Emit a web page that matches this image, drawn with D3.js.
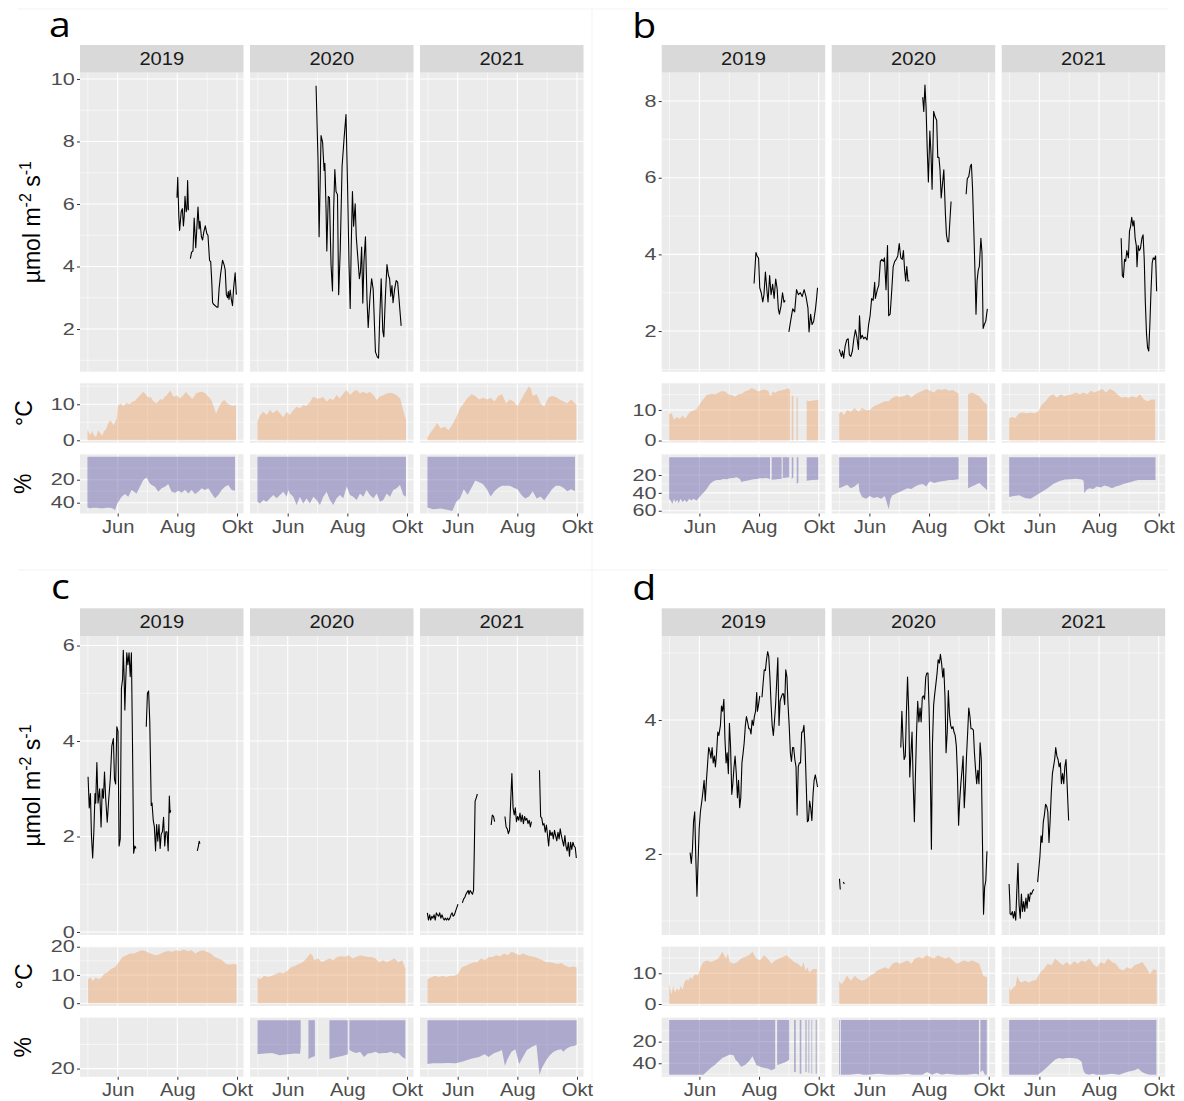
<!DOCTYPE html>
<html><head><meta charset="utf-8">
<script src="https://cdn.jsdelivr.net/npm/d3@7"></script>
<style>body{margin:0;background:#fff}svg{display:block}</style>
</head><body><svg id="chart" width="1184" height="1101"></svg>
<script>
// ---------- DATA (day = days after 1 May; value) ----------
const years = ["2019","2020","2021"];
const monthLabels = ["Jun","Aug","Okt"];
const monthDays = [31, 92, 153];
const panelLetters = ["a","b","c","d"];
const fluxTitle = ["µmol m","-2"," s","-1"];

// Panel a
const aFlux2019 = [[91.6,6.2],[92.4,6.85],[93.5,5.6],[94.3,5.15],[95.9,5.75],[97.1,5.85],[98.2,5.3],[99,5.6],[99.8,6.25],[101,5.75],[101.8,5.85],[102.5,6.75],[103.3,5.8],[104.2,null],[105.3,4.25],[106.5,4.45],[108,4.5],[109.2,5.55],[110.8,4.6],[113.1,5.9],[114.3,5.2],[115.1,5.45],[116.6,4.95],[117.8,4.85],[119,5.1],[120.6,5.3],[122.1,5.05],[123.3,5.0],[124.9,4.2],[126.1,4.15],[127.2,3.5],[128,2.85],[128.8,2.8],[132.3,2.7],[133.5,2.7],[134.7,3.3],[136.2,3.75],[138.2,4.2],[139.8,4.05],[140.9,3.9],[142.1,3.1],[143.3,3.0],[144.1,3.2],[144.8,2.95],[146,3.25],[147.2,2.95],[148.4,2.75],[149.5,3.3],[151.1,3.8],[152.3,3.1]];
const aFlux2020 = [[60,9.78],[62,7.4],[63.1,4.95],[65.1,8.19],[66.7,7.97],[68.2,7.07],[69,7.3],[70.2,5.85],[71,4.5],[72.5,6.24],[73.7,6.2],[75.3,4.06],[76.8,3.22],[78,5.85],[79.2,7.1],[80.4,6.4],[81.9,6.3],[83.1,3.1],[84.7,4.5],[86.6,7.2],[88.6,8.08],[90.6,8.86],[92.1,6.74],[93.7,4.06],[94.9,2.66],[96,4.73],[97.2,6.4],[98.4,5.29],[100,6.01],[101.1,4.95],[102.7,4.28],[104.3,3.61],[105.4,3.83],[106.6,4.62],[107.8,2.83],[109,4.17],[110.5,4.95],[112.1,2.94],[113.3,2.05],[115.2,3.05],[116.8,3.61],[118.4,3.27],[120.7,1.27],[122.7,1.1],[123.9,1.07],[125,2.27],[126.6,3.61],[128.2,1.94],[129.3,1.75],[130.9,3.05],[132.5,4.06],[134,3.72],[135.2,3.61],[136.4,3.05],[137.6,3.39],[138.7,2.84],[140.3,3.27],[141.9,3.55],[143.4,3.5],[144.6,3.05],[147,2.1]];
const aFlux2021 = [];
const aTemp2019 = [[0,3.0],[3,1.5],[5,2.6],[7,1.2],[9,1.0],[11,2.8],[13,2.0],[15,1.2],[17,2.5],[19,3.0],[21,4.5],[23,5.5],[25,5.0],[27,4.2],[29,5.5],[30,6.0],[31,9.6],[34,10.2],[37,9.5],[40,10.4],[43,10.0],[46,10.7],[49,11.0],[52,12.0],[55,12.8],[57,13.5],[59,13.0],[61,12.2],[63,11.8],[65,12.0],[67,11.0],[69,10.6],[71,10.3],[73,11.0],[75,11.5],[77,11.2],[79,12.0],[81,12.5],[83,13.2],[85,13.8],[87,12.6],[89,12.0],[91,12.5],[93,12.0],[95,11.6],[97,12.2],[99,12.8],[101,13.5],[103,12.6],[105,12.2],[107,11.5],[109,12.0],[111,13.0],[113,13.2],[115,13.4],[117,13.5],[119,13.3],[121,13.0],[123,12.2],[125,11.8],[127,11.0],[129,9.5],[131,7.8],[132,7.5],[134,9.0],[136,10.0],[138,10.8],[140,11.2],[142,10.6],[144,10.0],[146,9.8],[148,9.6],[150,9.5],[152,9.9]];
const aTemp2020 = [[0,5.2],[3,7.0],[6,7.9],[9.5,7.0],[13,8.4],[16,7.5],[20,8.4],[23,7.5],[26.5,6.4],[30,7.9],[33,7.0],[37,8.4],[40,9.3],[43.5,8.9],[47,9.8],[50,9.5],[54,10.7],[57,12.1],[60.6,11.6],[64,11.6],[67,12.1],[71,10.7],[74,11.6],[77.6,11.2],[81,12.6],[84,11.6],[88,13.0],[91,14.0],[95,12.6],[98,13.5],[101.5,14.0],[105,13.0],[108,13.5],[112,13.0],[115,13.5],[118.6,12.6],[122,11.2],[125,12.1],[129,12.6],[132,13.0],[135.6,13.2],[139,13.0],[142,12.6],[146,11.6],[149,8.4],[152,5.8]];
const aTemp2021 = [[0,0.8],[3.7,2.3],[7.8,3.8],[9.8,4.8],[13.7,3.3],[17.6,3.8],[21.5,2.8],[25.5,4.3],[29.4,6.3],[33.3,8.8],[37.2,10.3],[41.2,11.8],[45.1,12.8],[49,12.3],[52.9,11.3],[56.8,11.8],[60.8,11.3],[64.7,11.8],[68.6,10.8],[72.5,12.3],[76.4,12.8],[80.4,10.3],[84.3,11.3],[88.2,10.8],[92.1,9.5],[96,11.3],[100,13.3],[103.9,15.0],[105.8,14.3],[107.8,12.3],[111.7,12.8],[115.6,10.3],[119.5,9.3],[123.5,11.8],[127.4,12.3],[131.3,12.0],[135.2,11.3],[139.1,10.8],[143.1,10.3],[147,11.3],[150.9,10.3],[152.5,10.0]];
const aHum2019 = [[0,44.1],[2.7,44.9],[6,44.3],[9.5,44.3],[13,44.9],[16.3,44.9],[20,44.3],[23.1,44.3],[26,45],[28.2,46.4],[30.6,40.6],[35,34.8],[38.4,32.5],[41.8,34.8],[45.2,29],[50.3,31.9],[53.7,26.1],[57.2,20.3],[60.6,18],[63.3,22.6],[65.7,24.6],[69.1,26.1],[72.5,30.4],[75.9,27.5],[79.3,26.1],[82.7,23.8],[86.1,30.4],[89.6,31.3],[93,29.6],[96.4,31.3],[99.8,29],[103.2,31.9],[106.6,29],[110,32.5],[113.4,30.4],[116.8,27.5],[120.2,29],[123.6,27.5],[127.1,31.9],[130.5,36.2],[133.9,33.3],[137.3,29],[140.7,26.1],[144.1,24.6],[147.5,29],[150.9,29.6]];
const aHum2020 = [[0,39.1],[2.7,40.6],[6.1,37.7],[9.5,39.1],[12.9,36.2],[16.3,33.3],[19.7,36.2],[23.1,33.3],[26.5,30.4],[29.9,34.8],[31.6,29],[33.3,31.9],[36.7,34.8],[40.1,42],[43.5,34.8],[46.9,40.6],[50.3,36.2],[53.7,40.6],[57.2,34.8],[60.6,37.7],[64,42],[67.4,34.8],[70.8,30.4],[74.2,37.7],[77.6,42],[81,36.2],[84.4,33.3],[87.8,36.2],[91.3,26],[94.7,33.3],[98.1,34.8],[101.5,37.7],[104.9,31.9],[108.3,34.8],[111.7,28.9],[115.1,33.3],[118.6,36.2],[122,31.9],[125.4,39.1],[128.8,37.7],[132.2,31.9],[135.6,34.8],[139,28.9],[142.4,27.5],[145.8,24.6],[149.2,33.3],[151.9,34.8]];
const aHum2021 = [[0,44.1],[5.8,45.6],[13.7,45],[21.5,46.3],[25.5,47.2],[29.4,39.4],[33.3,36.3],[37.2,28.4],[41.2,33.1],[45.1,26.9],[49,20.6],[52.9,22.2],[56.8,23.8],[60.8,28.4],[64.7,34.7],[68.6,30],[72.5,26.9],[76.4,25.3],[80.4,25.3],[84.3,25.3],[88.2,26.9],[92.1,28.4],[96,33.1],[100,36.3],[103.9,34.7],[107.8,30],[111.7,36.3],[115.6,34.7],[119.5,37.8],[123.5,33.1],[127.4,28.4],[131.3,25.3],[135.2,25.3],[139.1,26.9],[143.1,30],[147,28.4],[150.9,30]];

// Panel b
const bFlux2019 = [[86.9,3.24],[88.8,4.05],[90,3.96],[91.5,3.9],[92.7,3.13],[94.2,3.0],[95.8,2.76],[97,2.95],[98.5,3.54],[100.1,3.04],[101.2,2.76],[102.8,3.45],[104.3,2.95],[105.9,3.22],[107.4,2.85],[109,3.36],[110.5,3.1],[111.7,2.58],[112.8,2.44],[114.4,2.65],[116,3.0],[117.5,2.75],[118.7,2.8],[120.5,null],[122.5,1.98],[124.5,2.3],[126.4,2.58],[128.4,2.5],[130.3,3.08],[132.2,2.95],[134.2,3.0],[136.1,2.9],[138.1,3.08],[140,2.9],[142,2.6],[143.1,1.98],[144.7,2.44],[146.2,2.17],[147.8,2.25],[149.7,2.58],[150.8,2.85],[151.8,3.13]];
const bFlux2020 = [[0.3,1.52],[1.2,1.43],[2.4,1.34],[3.5,1.48],[4.7,1.29],[6.2,1.61],[7.8,1.77],[9.3,1.8],[10.5,1.38],[12,1.34],[13.6,1.48],[15.1,1.8],[16.7,2.03],[18.2,1.84],[19.8,1.52],[20.9,2.4],[22.1,1.8],[23.6,1.89],[25.2,1.8],[26.7,1.84],[28.6,1.77],[30.2,2.17],[31.7,2.4],[33.3,2.85],[34.8,2.8],[36.4,3.27],[37.1,2.85],[39.1,3.08],[40.6,3.2],[42.2,3.82],[43.7,3.87],[45.3,3.82],[46.4,3.91],[48,3.08],[49.5,4.23],[50.7,2.4],[52.2,2.44],[53.8,3.04],[55.3,3.68],[56.9,3.82],[58.4,3.87],[60,3.96],[61.5,4.28],[63.1,3.91],[64.6,3.87],[65.8,4.1],[66.9,3.63],[68.1,3.31],[69.2,3.68],[70.4,3.31],[71.9,3.31],[73,null],[85.5,8.1],[86.6,7.73],[87.8,8.42],[88.9,7.86],[90.1,6.76],[91.3,5.89],[92.8,7.22],[94,6.62],[95.1,5.7],[96.7,7.73],[98.2,7.59],[99.8,7.5],[100.9,6.53],[102.1,6.53],[103.2,6.21],[104.4,5.47],[105.6,5.8],[107.1,6.21],[108.7,5.06],[109.8,4.51],[111,4.33],[112.1,4.33],[113.3,4.88],[114.5,5.38],[116,null],[129.9,5.57],[131.1,5.98],[132.6,6.03],[134.2,6.3],[135.3,6.35],[136.5,5.7],[138,4.42],[139.2,3.31],[140,2.44],[141.1,3.31],[142.3,3.59],[143.4,3.68],[145,4.42],[146.1,4.05],[147.3,2.07],[148.5,2.17],[150,2.26],[151.6,2.58]];
const bFlux2021 = [[114.6,4.42],[115.8,3.45],[116.9,3.4],[118.1,3.87],[119.2,3.82],[120.4,4.1],[122,3.91],[123.1,4.6],[124.3,4.74],[125.4,4.97],[126.6,4.74],[127.7,4.88],[128.9,4.42],[130.1,4.23],[130.8,3.68],[132,4.23],[133.1,4.1],[134.3,4.15],[135.8,4.42],[137,4.51],[138.2,3.87],[139.3,2.76],[140.5,1.94],[141.6,1.57],[142.8,1.48],[144,2.21],[145.1,3.04],[146.3,3.77],[147.4,3.91],[148.6,3.87],[149.8,3.96],[150.9,3.04]];
const bTemp2019 = [[0,8.7],[2.6,8.9],[5,6.8],[7.7,7.7],[11.1,7.1],[13.9,8.2],[16.3,7.1],[18.7,8.2],[21.3,9.3],[24.8,9.8],[28.2,10.3],[31.6,12.1],[35,13.5],[38.4,14.9],[43.6,15.3],[47,15.1],[50.4,15.6],[53.8,16.2],[57.2,16.0],[60.6,15.1],[64,14.9],[67.4,14.3],[70.8,15.1],[74.2,15.3],[77.6,16.0],[81,16.4],[84.4,17.2],[87.8,16.7],[91.3,16.0],[94.7,16.4],[98.1,16.7],[101.5,16.2],[103.9,14.3],[105.9,16.0],[108.3,15.6],[111.7,16.2],[115.1,16.4],[118.6,16.7],[122,17.2],[123.7,16.4],[124.3,null],[125.4,14.6],[127.1,14.6],[127.6,null],[130.3,14.3],[131.6,14.0],[132,null],[140.7,13.2],[143,12.8],[146,13.0],[149,13.2],[152.6,13.3]];
const bTemp2020 = [[0,8.9],[2.4,9.4],[5.1,8.3],[8.2,10],[12,9.4],[15.9,10.6],[19.8,9.4],[23.6,10.6],[27.5,10],[31.4,10],[35.2,11.1],[39.1,11.7],[43,12.3],[46.8,12.8],[50.7,12.8],[54.5,14],[58.4,14.5],[62.3,14.2],[66.1,14.5],[70,15.1],[73.9,14],[77.7,15.1],[81.6,15.7],[85.5,16.3],[89.3,16.8],[93.2,16.3],[97.1,15.7],[100.9,16.8],[104.8,16.5],[108.7,16.8],[112.5,16.3],[116.4,16.5],[120.3,15.7],[122.2,15.3],[122.8,null],[131.9,15.1],[135.7,15.7],[139.6,15.1],[143.4,14.5],[147.3,12.8],[151.2,11.7]];
const bTemp2021 = [[0,7.2],[2.5,7.7],[6.4,7.4],[10.2,8.9],[14.1,9.2],[18,8.9],[21.8,9.2],[25.7,8.9],[29.6,9.4],[33.4,11.7],[37.3,12.8],[41.2,14.5],[45,15.1],[48.9,14],[52.8,15.1],[56.6,14.5],[60.5,14.9],[64.4,15.1],[68.2,15.7],[72.1,15.1],[76,15.7],[79.8,15.1],[83.7,16.3],[87.5,15.7],[91.4,16.3],[95.3,16.8],[99.1,15.7],[103,16.8],[106.9,16.3],[110.7,15.1],[114.6,14],[118.5,14.2],[122.3,14],[126.2,14.5],[130.1,14],[133.9,15.1],[137.8,13.4],[141.7,12.8],[145.5,13.4],[149.4,13.4]];
const bHum2019 = [[0,46.7],[1.5,48.5],[3.5,52.2],[5,46.7],[6.3,50.4],[8.4,47.8],[9.7,51.5],[11.8,46.7],[13.9,50.4],[15.9,47.8],[18,50.4],[20.7,46.7],[22.8,48.5],[24.8,46.7],[28.2,48.5],[30.9,44.8],[33.3,41.9],[35.7,39.3],[38.4,35.6],[41.8,30],[45.2,27],[48.6,25.6],[52,25.6],[55.5,24.4],[58.9,24.8],[62.3,23.7],[65.7,23.3],[69.1,22.6],[72.5,24.4],[74.2,28.1],[75.9,27],[79.3,26.3],[82.7,25.6],[86.1,24.8],[89.6,24.4],[93,23.7],[96.4,23.7],[99.8,23.3],[103.2,24.4],[103.8,null],[104.9,25.2],[108,25.0],[112,24.6],[115.1,24.4],[115.6,null],[116.2,23.3],[119,23],[122.9,22.6],[123.4,null],[125.4,24.4],[127.1,22.6],[127.6,null],[130.5,30],[132.2,28],[132.6,null],[140.7,26.3],[146,25.6],[152.6,25.2]];
const bHum2020 = [[0,34.8],[4.3,32.9],[8.2,30.9],[12,34.8],[15.9,32.9],[19.8,29],[20.9,38.8],[23.6,44.6],[27.5,46.6],[31.4,43.4],[35.2,45.8],[39.1,44.6],[43,46.6],[46.8,43.4],[50.7,58.3],[52.6,46.6],[54.5,42.7],[58.4,40.7],[62.3,38.8],[66.1,36.8],[70,34.8],[73.9,35.6],[77.7,32.9],[81.6,30.9],[85.5,30.2],[89.3,32.9],[91.3,29],[93.2,27],[97.1,29],[100.9,27.8],[104.8,27],[108.7,26.3],[112.5,25.5],[116.4,25.5],[122.2,24.7],[122.8,null],[131.9,34.8],[135.7,32.9],[139.6,30.9],[143.4,29],[147.3,32.9],[151.2,36.8]];
const bHum2021 = [[0,44.6],[4.6,43.4],[10.4,42.7],[16.2,45.8],[22,46.6],[27.8,42.7],[33.6,38.8],[39.4,34.8],[45.2,30.2],[51,27],[56.8,25.1],[62.6,24.7],[68.4,24.3],[74.2,25.1],[76.2,26.3],[76.9,40.7],[78.9,36.8],[82,34.8],[85.9,35.6],[89.7,32.9],[93.6,34],[97.5,31.7],[101.3,32.9],[105.2,34.8],[109.1,32.9],[113,31.7],[116.8,30.2],[120.7,29],[124.6,27.8],[128.4,26.3],[132.3,25.5],[136.2,25.5],[142,25.5],[149.7,25.5]];

// Panel c
const cFlux2019 = [[0.7,3.25],[1.9,2.6],[3.1,2.9],[4.2,2.0],[5.4,1.55],[6.6,2.1],[7.8,2.9],[8.5,2.7],[9.7,3.55],[10.9,2.7],[12.5,3.0],[14,2.2],[15.2,3.0],[16.4,2.8],[17.5,3.35],[18.7,2.8],[20.3,2.3],[21.9,2.8],[23.4,3.2],[25,3.9],[26.6,4.05],[27.7,3.2],[28.9,3.1],[30.1,4.3],[31.3,4.2],[32.4,1.8],[33.6,1.95],[34.8,5.1],[36,5.3],[36.7,5.9],[37.5,5.4],[38.3,4.65],[39.1,5.2],[40.3,5.85],[41.4,5.6],[42.6,5.85],[43.8,5.35],[45,5.85],[46.1,4.0],[47.3,1.65],[48.5,1.8],[49.7,1.75],[51,null],[60.2,4.3],[61.4,5.0],[62.6,5.05],[63.8,4.4],[65.3,2.65],[66.1,2.7],[67.3,2.35],[68.5,2.2],[69.7,1.7],[70.8,2.25],[72,1.9],[73.2,2.25],[74.4,1.75],[75.5,2.05],[76.7,2.1],[77.9,2.4],[79.1,1.8],[80.2,2.1],[81.4,2.1],[82.6,1.7],[83.8,2.85],[84.5,2.5],[85.3,2.55],[86,null],[112.4,1.7],[113.5,1.8],[114.3,1.9],[115.1,1.85]];
const cFlux2020 = [];
const cFlux2021 = [[0,0.4],[1.1,0.25],[2.3,0.36],[3.4,0.25],[4.6,0.33],[5.7,0.29],[6.9,0.36],[8,0.25],[9.2,0.4],[10.3,0.36],[11.5,0.33],[12.6,0.4],[13.8,0.29],[14.9,0.36],[16.1,0.29],[17.2,0.25],[18.4,0.29],[19.5,0.25],[20.7,0.29],[21.8,0.25],[23,0.29],[24.1,0.36],[25.3,0.4],[26.4,0.33],[27.6,0.36],[28.7,0.43],[29.9,0.5],[31.3,0.58],[33.5,null],[35.8,0.61],[37,0.69],[38.2,0.72],[39.4,0.79],[40.5,0.83],[41.7,0.87],[42.5,0.79],[43.7,0.87],[44.9,0.83],[46.1,0.79],[47.2,0.87],[48,1.73],[48.8,2.74],[50,2.81],[51.1,2.89],[52,null],[65.2,2.24],[66.4,2.45],[67.6,2.42],[68.8,2.31],[69.5,null],[79.3,2.42],[80.5,2.2],[81.7,2.16],[82.8,2.06],[84,2.13],[85.2,2.74],[86.4,3.32],[87.6,2.6],[88.8,2.45],[89.9,2.6],[91.1,2.31],[92.3,2.42],[93.5,2.34],[94.7,2.49],[95.8,2.31],[97,2.45],[98.2,2.27],[99.4,2.42],[100.5,2.34],[101.7,2.38],[102.9,2.27],[104.1,2.34],[105.3,2.2],[106.4,2.31],[107,null],[114.6,3.39],[115.8,2.42],[117,2.38],[118.1,2.24],[119.3,2.27],[120.5,2.09],[121.7,2.24],[122.9,2.02],[124,1.8],[125.2,2.13],[126.4,2.02],[127.6,2.09],[128.8,1.95],[130,2.13],[131.1,2.02],[132.3,1.91],[133.5,2.09],[134.7,1.95],[135.8,2.16],[137,2.02],[138.2,1.91],[139.4,1.8],[140.6,2.02],[141.7,1.8],[142.9,1.7],[144.1,1.88],[145.3,1.59],[146.4,1.88],[147.6,1.73],[148.8,1.88],[150,1.8],[151.2,1.77],[152.3,1.55]];
const cTemp2019 = [[0.7,8.5],[3.1,9.1],[5.4,7.9],[8.5,9.1],[11.7,8.5],[14.4,9.1],[17.2,10.3],[20.3,10.9],[24.2,12.1],[28.1,12.7],[32,14.5],[36,16.4],[39.9,17],[43.8,17.6],[47.7,17.6],[51.6,18.2],[55.6,18.8],[59.5,18.4],[63.4,17.8],[67.3,17.2],[71.2,17],[75.1,17.6],[79.1,18.2],[83,18.5],[86.9,18.2],[90.8,18.8],[94.7,18.4],[98.6,19],[102.6,18.4],[106.5,18.8],[110.4,17.6],[114.3,18.4],[118.2,18.8],[122.1,18.2],[126.1,17.6],[130,16.4],[133.9,15.8],[137.8,15.2],[141.7,13.9],[145.6,13.7],[149.6,13.9],[152.7,13.7]];
const cTemp2020 = [[0.1,9.1],[3.2,8.5],[7.1,9.7],[11,9.3],[15,9.7],[18.9,10.3],[22.8,10.9],[26.7,10.5],[30.6,11.5],[34.5,12.7],[38.5,13.3],[42.4,13.9],[46.3,14.5],[50.2,15.8],[54.1,17.6],[56.1,17],[58,15.2],[62,15.8],[65.9,14.5],[69.8,15.2],[73.7,15.8],[77.6,15.2],[81.5,16.4],[85.5,16.6],[89.4,16.4],[93.3,17],[97.2,15.8],[101.1,16.4],[105,17],[109,16.6],[112.9,16.4],[116.8,16.4],[120.7,15.8],[124.6,14.5],[128.6,15.2],[132.5,14.5],[136.4,15.2],[140.3,15.8],[144.2,14.5],[148.1,15.2],[151.3,12.1]];
const cTemp2021 = [[0,8.5],[3.9,9.1],[7.8,9.7],[11.8,9.3],[15.7,9.7],[19.6,9.3],[23.5,9.7],[27.4,9.7],[31.3,10.3],[35.3,12.7],[39.2,13.3],[43.1,13.9],[47,14.5],[50.9,14.5],[54.9,15.8],[58.8,15.2],[62.7,16.4],[66.6,16.4],[70.5,17],[74.4,16.6],[78.4,17.6],[82.3,17],[86.2,18.2],[90.1,17.6],[94,17],[97.9,17.6],[101.9,17],[105.8,16.6],[109.7,16.4],[113.6,15.8],[117.5,15.2],[121.5,14.5],[125.4,14.5],[129.3,14.2],[133.2,13.9],[137.1,14.2],[141,13.3],[145,12.7],[148.9,13],[152.5,12.7]];
const cHum2019 = [];
const cHum2020 = [[0.1,14.1],[7.1,13.8],[15,13.5],[22.8,14.5],[30.6,14.1],[38.5,13.8],[43.6,13.9],[44.3,11.2],[44.8,null],[52.2,16],[56,15.2],[58.8,14.9],[59.3,null],[73.7,16],[77.6,15.6],[81.5,15.2],[85.5,14.9],[89.4,14.5],[92.5,14.1],[93.2,null],[94.1,12.3],[97.2,13],[101.1,13.5],[105,13],[109,15.2],[112.9,13.8],[116.8,13.5],[120.7,13],[124.6,13.8],[128.6,13.5],[132.5,13.5],[136.4,13],[140.3,13.8],[144.2,13.5],[148.1,15.2],[151.3,15.9]];
const cHum2021 = [[0,18.1],[5.7,17.8],[13.5,17.8],[21.4,17.7],[29.2,17.8],[37,17],[44.9,15.9],[52.7,15.2],[58.6,14.1],[62.5,15.2],[68.4,13.5],[72.3,13],[76.2,12.3],[79.3,18.8],[82.1,15.9],[86,13],[89.9,12],[93.8,18.1],[97.7,15.2],[101.7,12.3],[107.5,10.9],[111.5,10.1],[114.6,22.5],[117.3,19.6],[121.3,16.7],[125.2,14.5],[129.1,13],[133,12.3],[136.9,12],[138.9,13],[142.8,11.6],[146.7,10.9],[150.6,10.6],[152.6,10.1]];

// Panel d
const dFlux2019 = [[21.5,2.02],[22.7,1.86],[23.9,2.07],[25,2.48],[26.2,2.63],[27.3,1.96],[28.5,1.37],[29.7,1.91],[30.8,2.38],[32,2.63],[33.5,2.79],[34.7,2.94],[35.8,3.1],[37,2.79],[38.2,3.1],[39.3,3.33],[40.5,3.59],[41.6,3.54],[42.8,3.43],[44,3.59],[45.1,3.36],[46.3,3.46],[47.4,3.3],[48.6,3.51],[49.8,3.82],[50.9,3.77],[52.5,3.92],[53.6,4.21],[54.8,4.13],[56,4.31],[57.1,3.72],[58.3,3.36],[59.4,3.51],[60.6,3.2],[61.7,3.95],[62.9,3.59],[64.1,2.89],[65.2,3.05],[66.4,3.3],[67.5,3.46],[68.7,3.2],[69.9,2.84],[71,3.1],[72.2,2.69],[73.3,2.84],[74.5,3.36],[75.7,3.51],[76.8,3.66],[78,3.92],[79.1,4.05],[80.3,3.97],[81.5,3.87],[82.6,3.87],[83.8,3.79],[84.9,4.0],[86.1,3.92],[87.2,4.05],[88.4,4.13],[89.6,4.41],[90.3,4.13],[91.5,4.23],[92.7,4.36],[93.5,null],[95,4.34],[96.1,4.54],[97.3,4.75],[98.5,4.74],[99.6,4.9],[100.8,5.02],[101.9,4.95],[103.1,4.64],[104.3,4.23],[105.4,3.92],[106.6,3.77],[107.7,3.97],[108.9,4.23],[110.1,4.59],[111.2,4.93],[112.4,3.92],[113.5,4.28],[114.7,4.34],[115.9,4.39],[117,4.39],[118.2,4.23],[119.3,4.75],[120.5,4.64],[121.6,4.23],[122.8,3.92],[124,3.51],[125.1,3.38],[126.3,3.59],[127.4,3.59],[128.6,3.41],[129.8,3.3],[130.9,2.58],[132.1,3.3],[133.2,3.36],[134.4,3.36],[135.6,3.82],[136.7,3.82],[137.9,3.92],[139,3.61],[140.2,3.05],[141.4,2.48],[142.5,2.5],[143.7,2.79],[144.8,2.69],[146,2.5],[147.2,2.89],[148.3,3.1],[149.5,3.18],[150.6,3.1],[151.8,3.0]];
const dFlux2020 = [[0.4,1.63],[1.2,1.47],[1.6,null],[4.3,1.58],[5.4,1.55],[6,null],[63.1,3.59],[64.2,4.13],[65.4,3.69],[66.5,3.41],[67.7,3.46],[68.8,4.08],[70,4.64],[71.2,4.13],[72.3,3.15],[73.5,3.51],[74.6,3.82],[75.8,3.05],[77,2.48],[78.1,3.2],[79.3,3.85],[80.4,4.28],[81.6,3.97],[82.8,4.18],[83.9,3.97],[85.1,4.34],[86.2,4.36],[87.4,4.31],[88.6,4.64],[89.7,4.7],[90.9,4.7],[92,4.18],[93.2,3.3],[94.4,2.07],[95.5,3.66],[96.7,4.23],[97.8,4.39],[99,4.54],[100.2,4.7],[101.3,4.9],[102.5,4.85],[103.6,4.98],[104.8,4.85],[106,4.64],[107.1,4.77],[108.3,4.34],[109.4,3.51],[110.6,3.82],[111.7,4.44],[112.9,4.08],[114.1,3.92],[115.2,3.87],[116.4,3.9],[117.5,3.82],[118.7,3.77],[119.9,3.61],[121,3.2],[122.2,2.43],[123.3,2.79],[124.5,3.05],[125.7,3.25],[126.8,3.46],[128,2.69],[129.1,3.0],[130.3,3.46],[131.5,3.82],[132.6,4.18],[133.8,4.05],[134.9,3.87],[136.1,3.87],[137.3,3.85],[138.4,3.51],[139.6,3.25],[140.7,3.05],[141.9,3.25],[143,3.05],[144.2,3.66],[145.4,3.41],[146.5,2.27],[147.7,1.1],[148.8,1.5],[150,1.6],[151.2,2.04]];
const dFlux2021 = [[0,1.55],[0.9,1.24],[1,1.11],[2.1,1.09],[3.3,1.14],[4.4,1.04],[5.6,1.14],[6.8,1.01],[7.9,1.45],[9.1,1.86],[10.2,1.24],[11.4,1.04],[12.6,1.4],[13.7,1.14],[14.9,1.29],[16,1.14],[17.2,1.34],[18.4,1.19],[19.5,1.4],[20.7,1.29],[21.8,1.42],[23,1.4],[24.2,1.45],[25.3,1.47],[26.5,null],[29.2,1.58],[30.3,1.76],[31.5,1.96],[32.7,2.27],[33.8,2.17],[35,2.48],[36.1,2.58],[37.3,2.74],[38.5,2.71],[39.6,2.63],[40.8,2.17],[41.9,2.48],[43.1,2.89],[44.3,3.2],[45.4,3.3],[46.6,3.41],[47.7,3.59],[48.9,3.46],[50.1,3.41],[51.2,3.3],[52.4,3.36],[53.5,3.05],[54.7,3.2],[55.9,3.05],[57,3.3],[58.2,3.41],[59.3,3.05],[60.9,2.5]];
const dTemp2019 = [[0,6.4],[2.6,3.1],[4.1,5.9],[6.1,3.7],[8,5.3],[9.9,4.2],[11.9,5.9],[13.8,4.8],[15.7,7],[17.7,8.1],[19.6,7.6],[21.5,8.7],[23.5,8.1],[25.4,9.2],[27.3,9.8],[29.3,9.2],[31.2,10.9],[33.1,12.6],[35.1,13.7],[38.9,14.2],[42.8,13.7],[46.7,14.2],[50.5,14.8],[54.4,17],[56.3,15.9],[58.3,14.8],[60.2,16.4],[62.1,13.7],[66,13.1],[69.9,13.7],[73.7,14.8],[77.6,15.3],[81.5,15.9],[85.3,17],[89.2,14.8],[93.1,14.2],[96.9,15.9],[100.8,14.8],[104.7,13.1],[108.5,14.2],[112.4,14.8],[116.2,15.3],[120.1,15.9],[124,14.8],[127.8,13.7],[131.7,13.1],[135.6,12],[137.5,13.7],[139.4,10.9],[141.4,12],[143.3,10.3],[147.2,11.4],[151,11.4]];
const dTemp2020 = [[0,7.6],[2.4,6.4],[4.3,7.2],[8.2,9.2],[12,7.6],[15.9,9.2],[19.8,8.1],[23.6,7.6],[27.5,8.1],[31.4,9.2],[35.2,9.8],[39.1,10.9],[43,11.4],[46.8,12],[50.7,11.4],[54.5,13.1],[58.4,13.7],[62.3,13.1],[66.1,13.7],[70,14.2],[73.9,13.1],[77.7,14.8],[81.6,15.3],[85.5,14.8],[89.3,15.9],[93.2,15.3],[97.1,14.8],[100.9,15.9],[104.8,15.3],[108.7,14.8],[112.5,15.3],[116.4,14.2],[120.3,13.1],[124.2,13.7],[128,14.2],[131.9,13.7],[135.7,14.2],[139.6,13.7],[143.4,13.1],[147.3,9.2],[151.2,8.7]];
const dTemp2021 = [[0,5.9],[1.5,4.2],[3.9,5.3],[6.6,5.9],[8.5,9.2],[10.4,7.6],[12.4,7],[16.2,7.6],[20.1,7],[24,7.6],[27.8,7.9],[31.7,10.3],[35.6,11.4],[39.4,13.1],[43.3,12.6],[47.2,14.8],[51,13.7],[54.9,12.6],[58.8,13.7],[62.7,12.6],[66.5,13.9],[70.4,13.1],[74.3,14.2],[78.1,13.7],[82,14.8],[85.9,13.1],[89.7,12],[93.6,13.7],[97.5,13.1],[101.3,14.8],[105.2,13.7],[109.1,13.1],[112.9,11.4],[116.8,10.9],[120.7,12],[124.6,11.4],[128.4,12.6],[132.3,13.1],[136.2,13.7],[140,12],[143.9,9.8],[147.8,11.4],[150.9,10.9]];
const dHum2019 = [[0,50.6],[10,50.6],[20,50.6],[30,50.6],[35.1,50.6],[38.9,47.4],[42.8,44.2],[46.7,41.6],[50.5,38.4],[54.4,35.2],[58.3,33.5],[62.1,31.9],[66,32.6],[67.9,36.8],[69.9,38.4],[73.7,43.2],[77.6,41.6],[81.5,38.4],[85.3,33.5],[89.2,41.6],[93.1,43.2],[96.9,44.2],[100.8,44.8],[104.7,46.5],[108.5,44.8],[109,null],[110.5,41.6],[116.2,40],[120.1,38.4],[122.8,36.8],[123.3,null],[127.8,48.1],[129.5,48.1],[129.9,null],[133.6,49.7],[135.2,49.7],[135.6,null],[139.4,48.1],[140.6,48.1],[141,null],[142.5,48.7],[143.4,48.7],[143.8,null],[145.6,49.7],[146.3,49.7],[146.7,null],[149.9,49.7],[151,49.7]];
const dHum2020 = [[0,50.6],[0.9,50.6],[1.2,null],[1.8,50.6],[10,50.6],[20,49.7],[25,50.6],[30,50.6],[40,49.7],[50,50.6],[60,50.6],[70,49.7],[75,50.6],[85,50.6],[90,48.1],[95,50.6],[100,48.7],[105,50.6],[110,49.7],[120,50.6],[130,50.6],[140,49.7],[143,50.6],[143.4,null],[144.5,48.1],[147,46.5],[149,50.6],[151,50.6]];
const dHum2021 = [[0,50.6],[15,50.6],[29.6,50.6],[35.4,46.5],[41.1,41.6],[46.9,36.8],[50.8,35.2],[54.7,35.8],[58.5,35.2],[64.3,35.2],[70.1,35.8],[74,38.4],[75.9,46.5],[77.9,49.7],[81.7,50.6],[85.6,49.7],[89.5,50.6],[97.2,50.6],[104.9,49.7],[112.7,50.6],[120.4,48.1],[128.2,46.5],[132,44.8],[135.9,48.1],[139.8,49.7],[143.6,50.6],[150.6,50.6]];

// axis settings (tick labels and limits)
const fluxTicksA = [2,4,6,8,10], fluxTicksB = [2,4,6,8], fluxTicksC = [0,2,4,6], fluxTicksD = [2,4];
const tempTicksA = [0,10], tempTicksB = [0,10], tempTicksC = [0,10,20], tempTicksD = [0,10];
const humTicksA = [20,40], humTicksB = [20,40,60], humTicksC = [20], humTicksD = [20,40];

// ---------- LAYOUT / STYLE ----------
const panels = [
  {letter:panelLetters[0], ox:0, oy:0, lx:49, ly:37, titles:true,
   flux:[aFlux2019,aFlux2020,aFlux2021], temp:[aTemp2019,aTemp2020,aTemp2021], hum:[aHum2019,aHum2020,aHum2021],
   fd:[0.635,10.2], ft:fluxTicksA, td:[-0.67,15.83], tt:tempTicksA, hd:[-2.1,49.4], ht:humTicksA},
  {letter:panelLetters[1], ox:581.7, oy:0, lx:50.5, ly:38, titles:false,
   flux:[bFlux2019,bFlux2020,bFlux2021], temp:[bTemp2019,bTemp2020,bTemp2021], hum:[bHum2019,bHum2020,bHum2021],
   fd:[0.94,8.74], ft:fluxTicksB, td:[-0.7,18.7], tt:tempTicksB, hd:[-3.2,63.1], ht:humTicksB},
  {letter:panelLetters[2], ox:0, oy:563.3, lx:51, ly:36, titles:true,
   flux:[cFlux2019,cFlux2020,cFlux2021], temp:[cTemp2019,cTemp2020,cTemp2021], hum:[cHum2019,cHum2020,cHum2021],
   fd:[-0.063,6.2], ft:fluxTicksC, td:[-1.0,20.05], tt:tempTicksC, hd:[-1.1,23.4], ht:humTicksC},
  {letter:panelLetters[3], ox:581.7, oy:563.3, lx:50.5, ly:37, titles:false,
   flux:[dFlux2019,dFlux2020,dFlux2021], temp:[dTemp2019,dTemp2020,dTemp2021], hum:[dHum2019,dHum2020,dHum2021],
   fd:[0.79,5.254], ft:fluxTicksD, td:[-0.65,18.7], tt:tempTicksD, hd:[-2.2,52.5], ht:humTicksD}
];

const PW = 163.5;
const facetX = [80, 250, 420];
const STRIP = [45, 72.7], MAIN = [72.7, 371.7], TEMP = [383.3, 442.7], HUM = [454.3, 513.5];
const FONT = "'Liberation Sans', Arial, sans-serif";
const DAY0 = Date.UTC(2019,4,1);
const dayDate = d => new Date(DAY0 + d*86400000);
const xDomain = [dayDate(-7.55), dayDate(159.63)];
const xMinor = [0.5, 61.5, 122.5];

const svg = d3.select("#chart");
svg.append("rect").attr("width",1184).attr("height",1101).attr("fill","#fff");
// faint sub-figure borders
const faint = svg.append("g").attr("stroke","#f3f3f3").attr("stroke-width",1);
faint.append("line").attr("x1",18).attr("x2",1168).attr("y1",9).attr("y2",9);
faint.append("line").attr("x1",18).attr("x2",1168).attr("y1",570).attr("y2",570);
faint.append("line").attr("x1",592).attr("x2",592).attr("y1",9).attr("y2",1095);

let clipId = 0;
function minorBreaks(ticks, dom){
  const step = ticks.length>1 ? ticks[1]-ticks[0] : 20;
  const out = [];
  for (let v = ticks[0]-step/2; v <= ticks[ticks.length-1]+step/2+1e-9; v += step){
    if (v > dom[0] && v < dom[1]) out.push(v);
  }
  return out;
}
function scaledText(g, x, y, txt, size, sx, anchor, color){
  return g.append("text").attr("transform",`translate(${x},${y}) scale(${sx},1)`)
    .attr("text-anchor",anchor).attr("font-family",FONT).attr("font-size",size)
    .attr("fill",color).text(txt);
}

panels.forEach(p => {
  const G = svg.append("g").attr("transform",`translate(${p.ox},${p.oy})`);
  // letter
  G.append("text").attr("transform",`translate(${p.lx},${p.ly}) scale(1.12,1)`)
    .attr("font-family","'Open Sans', 'Noto Sans', sans-serif").attr("font-size",35).attr("fill","#000").text(p.letter);

  const rows = [
    {key:"flux", r:MAIN, y: d3.scaleLinear().domain(p.fd).range([MAIN[1],MAIN[0]]), ticks:p.ft},
    {key:"temp", r:TEMP, y: d3.scaleLinear().domain(p.td).range([TEMP[1],TEMP[0]]), ticks:p.tt},
    {key:"hum",  r:HUM,  y: d3.scaleLinear().domain(p.hd).range([HUM[0],HUM[1]]), ticks:p.ht}
  ];

  years.forEach((yr, i) => {
    const gx = facetX[i];
    const x = d3.scaleUtc().domain(xDomain).range([gx, gx+PW]);
    // strip
    G.append("rect").attr("x",gx).attr("y",STRIP[0]).attr("width",PW).attr("height",STRIP[1]-STRIP[0]).attr("fill","#d9d9d9");
    scaledText(G, gx+PW/2, (STRIP[0]+STRIP[1])/2 + 6.3, yr, 17.5, 1.15, "middle", "#1a1a1a");

    rows.forEach(row => {
      const y = row.y;
      const [t,b] = row.r;
      G.append("rect").attr("x",gx).attr("y",t).attr("width",PW).attr("height",b-t).attr("fill","#ebebeb");
      const grid = G.append("g").attr("stroke","#fff");
      minorBreaks(row.ticks, y.domain()).forEach(v => grid.append("line").attr("x1",gx).attr("x2",gx+PW).attr("y1",y(v)).attr("y2",y(v)).attr("stroke-width",0.55));
      xMinor.forEach(d => grid.append("line").attr("x1",x(dayDate(d))).attr("x2",x(dayDate(d))).attr("y1",t).attr("y2",b).attr("stroke-width",0.55));
      row.ticks.forEach(v => grid.append("line").attr("x1",gx).attr("x2",gx+PW).attr("y1",y(v)).attr("y2",y(v)).attr("stroke-width",1.1));
      monthDays.forEach(d => grid.append("line").attr("x1",x(dayDate(d))).attr("x2",x(dayDate(d))).attr("y1",t).attr("y2",b).attr("stroke-width",1.1));

      const cid = "clip"+(clipId++);
      G.append("clipPath").attr("id",cid).append("rect").attr("x",gx).attr("y",t).attr("width",PW).attr("height",b-t);
      const data = p[row.key][i];
      if (data.length){
        if (row.key === "flux"){
          const line = d3.line().defined(d => d[1] != null).x(d => x(dayDate(d[0]))).y(d => y(d[1]));
          G.append("path").attr("clip-path",`url(#${cid})`).attr("d",line(data))
            .attr("fill","none").attr("stroke","#000").attr("stroke-width",1.1).attr("stroke-linejoin","round");
        } else {
          const area = d3.area().defined(d => d[1] != null).x(d => x(dayDate(d[0]))).y0(y(0)).y1(d => y(d[1]));
          G.append("path").attr("clip-path",`url(#${cid})`).attr("d",area(data))
            .attr("fill", row.key==="temp" ? "#eb9858" : "#6d67af")
            .attr("fill-opacity", row.key==="temp" ? 0.4 : 0.5);
        }
      }
      // left axis
      if (i === 0){
        const ax = G.append("g").attr("transform",`translate(${gx},0)`)
          .call(d3.axisLeft(y).tickValues(row.ticks).tickSize(3).tickPadding(0.8).tickFormat(d3.format("d")));
        ax.select(".domain").remove();
        ax.selectAll(".tick line").attr("stroke","#333").attr("stroke-width",1);
        ax.selectAll(".tick text").attr("font-family",FONT).attr("font-size",16).attr("fill","#4d4d4d")
          .attr("transform","scale(1.35,1)");
      }
      // bottom axis
      if (row.key === "hum"){
        const ax = G.append("g").attr("transform",`translate(0,${b})`)
          .call(d3.axisBottom(x).tickValues(monthDays.map(dayDate)).tickSize(3).tickPadding(3.5).tickFormat((d,k) => monthLabels[k]));
        ax.select(".domain").remove();
        ax.selectAll(".tick line").attr("stroke","#333").attr("stroke-width",1);
        ax.selectAll(".tick text").attr("font-family",FONT).attr("font-size",18).attr("fill","#4d4d4d")
          .attr("transform","scale(1.12,1)");
      }
    });
  });

  if (p.titles){
    const tt = G.append("text").attr("transform",`translate(40,${(MAIN[0]+MAIN[1])/2}) rotate(-90)`)
      .attr("text-anchor","middle").attr("font-family",FONT).attr("font-size",23).attr("fill","#000");
    tt.append("tspan").text(fluxTitle[0]);
    tt.append("tspan").attr("dy",-9).attr("font-size",16).text(fluxTitle[1]);
    tt.append("tspan").attr("dy",9).text(fluxTitle[2]);
    tt.append("tspan").attr("dy",-9).attr("font-size",16).text(fluxTitle[3]);
    G.append("text").attr("transform",`translate(31.5,${(TEMP[0]+TEMP[1])/2}) rotate(-90)`)
      .attr("text-anchor","middle").attr("font-family",FONT).attr("font-size",23).attr("fill","#000").text("°C");
    G.append("text").attr("transform",`translate(31,${(HUM[0]+HUM[1])/2}) rotate(-90)`)
      .attr("text-anchor","middle").attr("font-family",FONT).attr("font-size",23).attr("fill","#000").text("%");
  }
});
</script>
</body></html>
